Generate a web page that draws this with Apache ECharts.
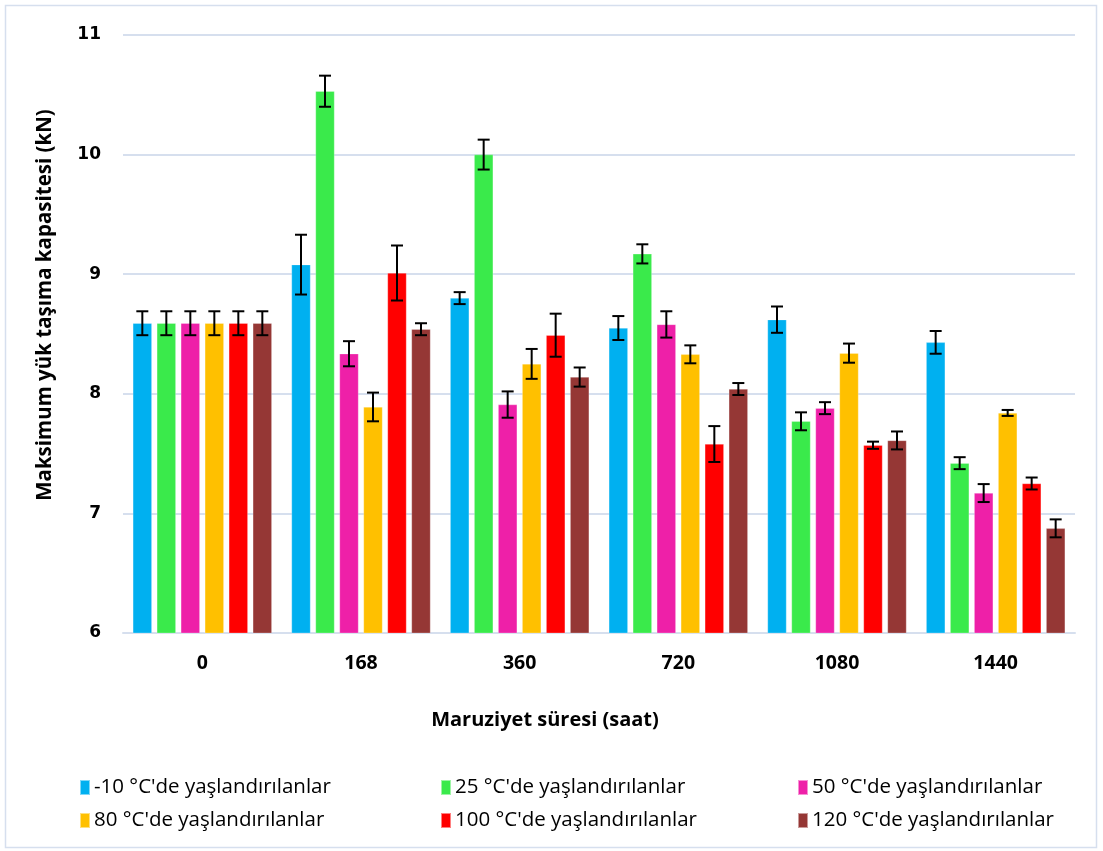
<!DOCTYPE html>
<html><head><meta charset="utf-8">
<script src="https://cdn.jsdelivr.net/npm/echarts@6/dist/echarts.min.js"></script>
<style>html,body{margin:0;padding:0;background:#fff}#c{width:1103px;height:851px}</style>
</head><body><div id="c"></div>
<script>
const categories = ['0','168','360','720','1080','1440'];
const seriesNames = ["-10 °C'de yaşlandırılanlar","25 °C'de yaşlandırılanlar","50 °C'de yaşlandırılanlar","80 °C'de yaşlandırılanlar","100 °C'de yaşlandırılanlar","120 °C'de yaşlandırılanlar"];
const colors = ['#00B0F0','#3AEA4B','#EE20A8','#FFC000','#FF0000','#953735'];
const valM10 = [8.59, 9.08, 8.80, 8.55, 8.62, 8.43];
const errM10 = [0.10, 0.25, 0.05, 0.10, 0.11, 0.095];
const val25 = [8.59, 10.53, 10.00, 9.17, 7.77, 7.42];
const err25 = [0.10, 0.13, 0.125, 0.08, 0.075, 0.05];
const val50 = [8.59, 8.335, 7.91, 8.58, 7.88, 7.17];
const err50 = [0.10, 0.105, 0.11, 0.11, 0.05, 0.075];
const val80 = [8.59, 7.89, 8.25, 8.33, 8.34, 7.84];
const err80 = [0.10, 0.12, 0.125, 0.075, 0.08, 0.025];
const val100 = [8.59, 9.01, 8.49, 7.58, 7.57, 7.25];
const err100 = [0.10, 0.23, 0.18, 0.15, 0.03, 0.05];
const val120 = [8.59, 8.54, 8.14, 8.04, 7.61, 6.875];
const err120 = [0.10, 0.05, 0.08, 0.05, 0.075, 0.075];
const yTicks = [6, 7, 8, 9, 10, 11];

const vals = [valM10, val25, val50, val80, val100, val120];
const errs = [errM10, err25, err50, err80, err100, err120];
const BAR_W = 19, PITCH = 24;
const FONT = 'Open Sans, sans-serif';
const chart = echarts.init(document.getElementById('c'));
const series = [];
vals.forEach((v, i) => {
  series.push({
    name: seriesNames[i], type: 'bar', data: v, barWidth: BAR_W, barGap: '26.3%',
    itemStyle: {color: colors[i], borderColor: 'rgba(255,255,255,0.5)', borderWidth: 0.5}
  });
});
vals.forEach((v, i) => {
  series.push({
    type: 'custom', name: 'err' + i, z: 10, silent: true,
    data: v.map((x, j) => [j, x - errs[i][j], x + errs[i][j]]),
    renderItem: function (params, api) {
      const lo = api.coord([api.value(0), api.value(1)]);
      const hi = api.coord([api.value(0), api.value(2)]);
      const x = lo[0] + (i - 2.5) * PITCH;
      const cw = 6;
      const st = {stroke: '#000', lineWidth: 2};
      return {type: 'group', children: [
        {type: 'line', shape: {x1: x, y1: hi[1], x2: x, y2: lo[1]}, style: st},
        {type: 'line', shape: {x1: x - cw, y1: hi[1], x2: x + cw, y2: hi[1]}, style: st},
        {type: 'line', shape: {x1: x - cw, y1: lo[1], x2: x + cw, y2: lo[1]}, style: st}
      ]};
    },
    encode: {x: 0, y: [1, 2]}
  });
});
const legPos = [[74,772],[435,772],[792,772],[74,805],[435,805],[792,805]];
const legends = seriesNames.map((n, i) => ({
  data: [n], left: legPos[i][0], top: legPos[i][1], itemWidth: 10, itemHeight: 15, itemGap: 0,
  icon: 'rect', selectedMode: false,
  textStyle: {fontFamily: FONT, fontSize: 20.5, color: '#000', padding: [0,0,0,-1]}
}));
chart.setOption({
  animation: false,
  backgroundColor: '#fff',
  grid: {left: 123, right: 28, top: 35, bottom: 218},
  legend: legends,
  xAxis: {
    type: 'category', data: categories,
    axisLine: {lineStyle: {color: '#D6DFEE', width: 2}},
    axisTick: {show: false},
    axisLabel: {fontFamily: FONT, fontWeight: 'bold', fontSize: 19.5, color: '#000', margin: 20}
  },
  yAxis: {
    type: 'value', min: 6, max: 11, interval: 1,
    axisLine: {show: false}, axisTick: {show: false},
    splitLine: {lineStyle: {color: '#D6DFEE', width: 2}},
    axisLabel: {fontFamily: 'DejaVu Sans', fontWeight: 'bold', fontSize: 17, color: '#000', margin: 22,
      formatter: v => yTicks.includes(v) ? String(v) : ''}
  },
  graphic: [
    {type: 'rect', shape: {x: 5.5, y: 5.5, width: 1091, height: 842}, style: {fill: 'none', stroke: '#D6DFEE', lineWidth: 1.5}, z: -1},
    {type: 'text', x: 45, y: 305, rotation: Math.PI / 2, style: {text: 'Maksimum yük taşıma kapasitesi (kN)', fontFamily: FONT, fontWeight: 'bold', fontSize: 20.5, fill: '#000', align: 'center', verticalAlign: 'middle'}},
    {type: 'text', x: 545, y: 720, style: {text: 'Maruziyet süresi (saat)', fontFamily: FONT, fontWeight: 'bold', fontSize: 20, fill: '#000', align: 'center', verticalAlign: 'middle'}}
  ],
  series: series
});
</script></body></html>
